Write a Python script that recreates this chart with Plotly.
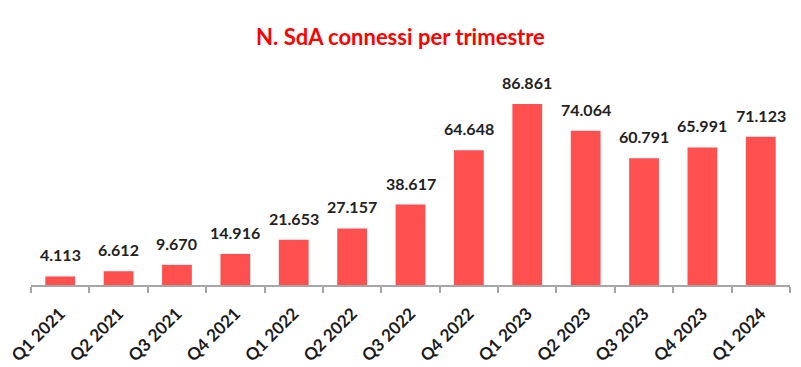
import plotly.graph_objects as go

categories = ["Q1 2021", "Q2 2021", "Q3 2021", "Q4 2021", "Q1 2022", "Q2 2022",
              "Q3 2022", "Q4 2022", "Q1 2023", "Q2 2023", "Q3 2023", "Q4 2023", "Q1 2024"]
values = [4113, 6612, 9670, 14916, 21653, 27157, 38617, 64648, 86861, 74064, 60791, 65991, 71123]
labels = ["4.113", "6.612", "9.670", "14.916", "21.653", "27.157", "38.617",
          "64.648", "86.861", "74.064", "60.791", "65.991", "71.123"]

FONT = "Lato"
fig = go.Figure()
fig.add_trace(go.Bar(x=categories, y=values, marker=dict(color="#FF5050", line=dict(width=0)),
                     width=0.51, hoverinfo="skip"))
for c, v, t in zip(categories, values, labels):
    fig.add_annotation(x=c, y=v, text=f"<b>{t}</b>", showarrow=False, yanchor="bottom",
                       yshift=10, font=dict(family=FONT, size=16, color="#222222"))

fig.update_layout(
    width=801, height=367,
    margin=dict(l=31, r=11, t=87, b=82),
    paper_bgcolor="white", plot_bgcolor="white",
    showlegend=False,
    title=dict(text="<b>N. SdA connessi per trimestre</b>", x=0.5, xanchor="center",
               y=1 - 37 / 367, yanchor="middle", xref="container",
               font=dict(family=FONT, size=22, color="#FF0000")),
    xaxis=dict(type="category", range=[-0.5, 12.5], showline=True, linecolor="#A6A6A6", linewidth=2,
               ticks="outside", tickson="boundaries", ticklen=6, tickcolor="#A6A6A6", tickwidth=1.5,
               tickangle=-45, showgrid=False, automargin=False, ticklabelstandoff=10,
               tickfont=dict(family=FONT, size=17, color="#1A1A1A", weight="bold")),
    yaxis=dict(range=[0, 95000], visible=False, showgrid=False, automargin=False),
)
fig.write_html("out.html", config={"displayModeBar": False},
               post_script="document.body.style.margin='0';")
